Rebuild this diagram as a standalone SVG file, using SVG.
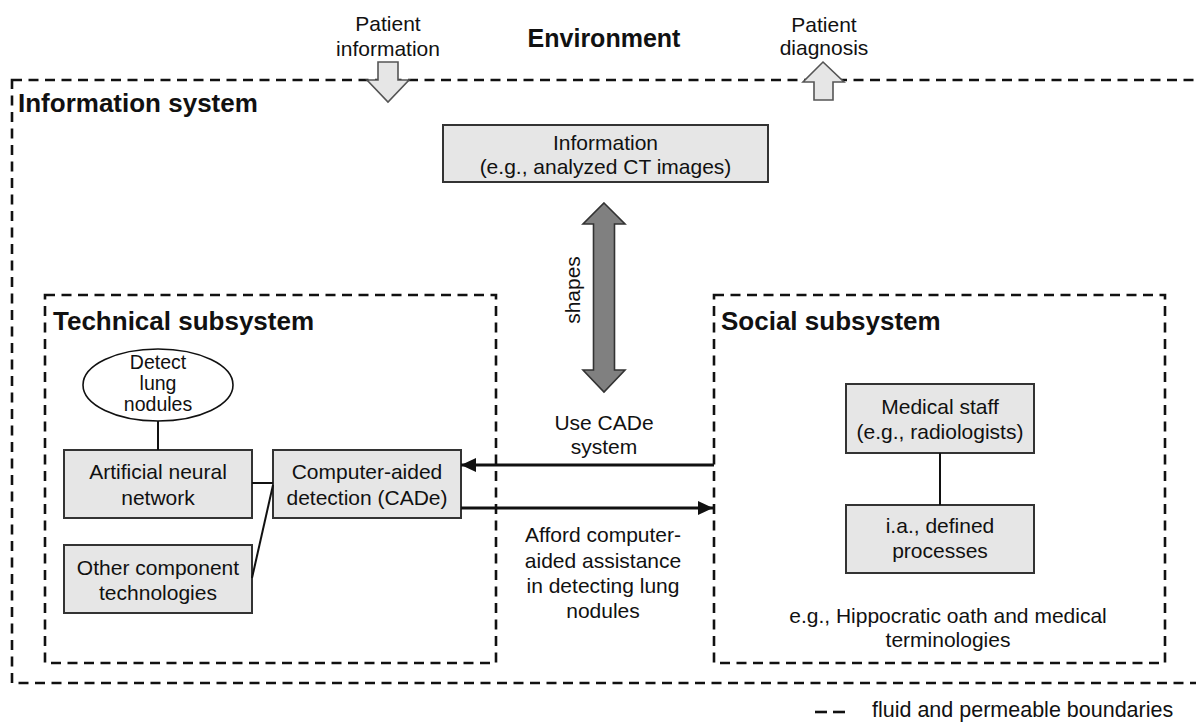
<svg xmlns="http://www.w3.org/2000/svg" width="1196" height="722" viewBox="0 0 1196 722">
  <style>
    text { font-family: "Liberation Sans", Arial, Helvetica, sans-serif; fill: #111; }
    .t { font-size: 21px; text-anchor: middle; }
    .e { font-size: 19.5px; text-anchor: middle; }
    .title { font-size: 26px; font-weight: bold; }
    .bound { fill: none; stroke: #111; stroke-width: 2.6; stroke-dasharray: 10 6.5; }
    .box { fill: #e6e6e6; stroke: #333; stroke-width: 2; }
    .conn { fill: none; stroke: #111; stroke-width: 2; }
    .flow { fill: none; stroke: #111; stroke-width: 2.8; }
    .light { fill: #e6e6e6; stroke: #555; stroke-width: 1.6; }
    .dark { fill: #808080; stroke: #333; stroke-width: 1.6; }
  </style>
  <defs>
    <marker id="ah" viewBox="0 0 15 14" refX="15" refY="7" markerWidth="15" markerHeight="14" markerUnits="userSpaceOnUse" orient="auto">
      <path d="M0,0 L15,7 L0,14 Z" fill="#111"/>
    </marker>
  </defs>
  <rect width="1196" height="722" fill="#fff"/>

  <g id="environment">
    <text class="title" x="604" y="47" text-anchor="middle" style="font-size:25px">Environment</text>
  </g>

  <g id="information-system">
    <rect class="bound" x="12" y="80" width="1200" height="603"/>
    <text class="title" x="18" y="112">Information system</text>
  </g>

  <g id="patient-information">
    <text class="t" x="388" y="31">Patient</text>
    <text class="t" x="388" y="56">information</text>
    <path class="light" d="M378,62 L398,62 L398,80 L409,80 L388,102 L367,80 L378,80 Z"/>
  </g>

  <g id="patient-diagnosis">
    <text class="t" x="824" y="32">Patient</text>
    <text class="t" x="824" y="55">diagnosis</text>
    <path class="light" d="M823,62 L844,82 L833,82 L833,100 L814,100 L814,82 L803,82 Z"/>
  </g>

  <g id="information">
    <rect class="box" x="443" y="125" width="325" height="57"/>
    <text class="t" x="605.5" y="150">Information</text>
    <text class="t" x="605.5" y="174">(e.g., analyzed CT images)</text>
  </g>

  <g id="shapes">
    <path class="dark" d="M604,203 L625,224 L614.5,224 L614.5,370 L625,370 L604,392 L583,370 L593.5,370 L593.5,224 L583,224 Z"/>
    <text class="t" x="0" y="0" transform="translate(580,290) rotate(-90)">shapes</text>
  </g>

  <g id="technical-subsystem">
    <rect class="bound" x="45" y="295" width="451" height="368"/>
    <text class="title" x="53" y="330">Technical subsystem</text>
  </g>

  <g id="detect-lung-nodules">
    <ellipse cx="158" cy="385" rx="75" ry="36" fill="#fff" stroke="#111" stroke-width="1.6"/>
    <text class="e" x="158" y="369">Detect</text>
    <text class="e" x="158" y="390">lung</text>
    <text class="e" x="158" y="411">nodules</text>
  </g>

  <g id="artificial-neural-network">
    <rect class="box" x="64" y="450" width="188" height="68"/>
    <text class="t" x="158" y="479">Artificial neural</text>
    <text class="t" x="158" y="505">network</text>
  </g>

  <g id="cade">
    <rect class="box" x="273" y="450" width="188" height="68"/>
    <text class="t" x="367" y="479">Computer-aided</text>
    <text class="t" x="367" y="505">detection (CADe)</text>
  </g>

  <g id="other-technologies">
    <rect class="box" x="64" y="545" width="188" height="68"/>
    <text class="t" x="158" y="575">Other component</text>
    <text class="t" x="158" y="600">technologies</text>
  </g>

  <g id="social-subsystem">
    <rect class="bound" x="714" y="295" width="451" height="368"/>
    <text class="title" x="721" y="330">Social subsystem</text>
    <text class="t" x="948" y="623">e.g., Hippocratic oath and medical</text>
    <text class="t" x="948" y="647">terminologies</text>
  </g>

  <g id="medical-staff">
    <rect class="box" x="846" y="384" width="188" height="69"/>
    <text class="t" x="940" y="414">Medical staff</text>
    <text class="t" x="940" y="439">(e.g., radiologists)</text>
  </g>

  <g id="defined-processes">
    <rect class="box" x="846" y="505" width="188" height="68"/>
    <text class="t" x="940" y="533">i.a., defined</text>
    <text class="t" x="940" y="558">processes</text>
  </g>

  <g id="connectors">
    <line class="conn" x1="158" y1="421" x2="158" y2="450"/>
    <line class="conn" x1="252" y1="483" x2="273" y2="483"/>
    <line class="conn" x1="252" y1="578" x2="273" y2="485"/>
    <line class="conn" x1="940" y1="453" x2="940" y2="505" stroke-width="1.5"/>
    <line class="flow" x1="714" y1="465" x2="461" y2="465" marker-end="url(#ah)"/>
    <line class="flow" x1="461" y1="508" x2="713" y2="508" marker-end="url(#ah)"/>
    <text class="t" x="604" y="430">Use CADe</text>
    <text class="t" x="604" y="454">system</text>
    <text class="t" x="603" y="542">Afford computer-</text>
    <text class="t" x="603" y="568">aided assistance</text>
    <text class="t" x="603" y="593">in detecting lung</text>
    <text class="t" x="603" y="618">nodules</text>
  </g>

  <g id="legend">
    <line x1="815" y1="712" x2="827" y2="712" stroke="#111" stroke-width="2.6"/>
    <line x1="833" y1="712" x2="845" y2="712" stroke="#111" stroke-width="2.6"/>
    <text x="872" y="717" style="font-size:21.5px">fluid and permeable boundaries</text>
  </g>
</svg>
